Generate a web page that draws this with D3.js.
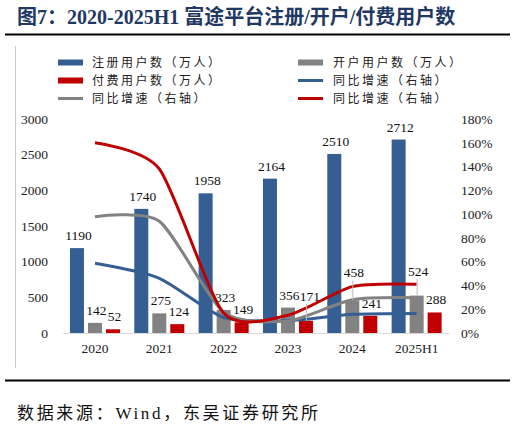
<!DOCTYPE html>
<html>
<head>
<meta charset="utf-8">
<script src="https://cdn.jsdelivr.net/npm/d3@7"></script>
<style>
  body { margin: 0; background: #fff; }
  svg { display: block; }
</style>
</head>
<body>
<div id="chart"></div>
<script>
// data
const years = ["2020", "2021", "2022", "2023", "2024", "2025H1"];
const registered = [1190, 1740, 1958, 2164, 2510, 2712];   // 注册用户数（万人）
const opened = [142, 275, 323, 356, 458, 524];              // 开户用户数（万人）
const paying = [52, 124, 149, 171, 241, 288];               // 付费用户数（万人）
const registeredYoy = [0.586, 0.46, 0.13, 0.105, 0.157, 0.165];
const openedYoy = [0.978, 0.94, 0.175, 0.102, 0.28, 0.297];
const payingYoy = [1.60, 1.38, 0.168, 0.15, 0.39, 0.41];
const leftTicks = [0, 500, 1000, 1500, 2000, 2500, 3000];
const rightTicks = [0, 0.2, 0.4, 0.6, 0.8, 1.0, 1.2, 1.4, 1.6, 1.8];

const width = 516, height = 428;
const blue = "#355f92", grey = "#828282", red = "#c00000";
const serif = "'Liberation Serif', 'Times New Roman', 'Noto Sans CJK SC', serif";
const cjk = "'Liberation Serif', 'Noto Sans CJK SC', sans-serif";

const svg = d3.select("#chart")
  .append("svg")
  .attr("width", width)
  .attr("height", height);

// title + rules
svg.append("text")
  .attr("x", 17)
  .attr("y", 24)
  .attr("fill", "#1f3864")
  .attr("font-family", cjk)
  .attr("font-weight", "bold")
  .attr("font-size", 20)
  .text("图7：2020-2025H1 富途平台注册/开户/付费用户数");

svg.append("line")
  .attr("x1", 5).attr("x2", 510).attr("y1", 34.5).attr("y2", 34.5)
  .attr("stroke", "#000").attr("stroke-width", 2);
svg.append("line")
  .attr("x1", 5).attr("x2", 510).attr("y1", 380.5).attr("y2", 380.5)
  .attr("stroke", "#000").attr("stroke-width", 2);
svg.append("line")
  .attr("x1", 15.5).attr("x2", 15.5).attr("y1", 46).attr("y2", 368)
  .attr("stroke", "#c8c8c8").attr("stroke-width", 1);

svg.append("text")
  .attr("x", 17)
  .attr("y", 419)
  .attr("font-family", cjk)
  .attr("font-size", 17)
  .attr("textLength", 301)
  .attr("lengthAdjust", "spacing")
  .attr("fill", "#111")
  .text("数据来源：Wind，东吴证券研究所");

// scales
const x = d3.scaleBand().domain(years).range([62.8, 448.8]);
const cx = d => x(d) + x.bandwidth() / 2;
const yL = d3.scaleLinear().domain([0, 3000]).range([333, 119]);
const yR = d3.scaleLinear().domain([0, 1.8]).range([333, 119]);

const barW = 14, step = 18;
const series = [
  { name: "注册用户数（万人）", values: registered, color: blue, off: -step },
  { name: "开户用户数（万人）", values: opened, color: grey, off: 0 },
  { name: "付费用户数（万人）", values: paying, color: red, off: step }
];
const lines = [
  { values: registeredYoy, color: blue },
  { values: openedYoy, color: grey },
  { values: payingYoy, color: red }
];

// axes
const fontAxis = g => g.selectAll("text")
  .attr("font-family", serif).attr("font-size", 13.5).attr("fill", "#222");

svg.append("g")
  .attr("transform", "translate(48,0)")
  .call(d3.axisLeft(yL).tickValues(leftTicks).tickSize(0).tickPadding(0).tickFormat(d3.format("d")))
  .call(g => g.select(".domain").remove())
  .call(fontAxis);

svg.append("g")
  .attr("transform", "translate(461,0)")
  .call(d3.axisRight(yR).tickValues(rightTicks).tickSize(0).tickPadding(0).tickFormat(d3.format(".0%")))
  .call(g => g.select(".domain").remove())
  .call(fontAxis);

// bars
const bars = svg.append("g");
series.forEach(s => {
  bars.append("g")
    .attr("fill", s.color)
    .selectAll("rect")
    .data(years.map((yr, i) => ({ yr, v: s.values[i] })))
    .join("rect")
    .attr("x", d => cx(d.yr) + s.off - barW / 2)
    .attr("width", barW)
    .attr("y", d => yL(d.v))
    .attr("height", d => yL(0) - yL(d.v));
});

svg.append("g")
  .attr("transform", "translate(0,333)")
  .call(d3.axisBottom(x).tickSize(0).tickSizeOuter(0).tickPadding(10.5))
  .call(g => g.select(".domain").attr("stroke", "#d9d9d9"))
  .call(fontAxis);

// smoothed yoy lines, a little tension so the dips stay shallow like the original
const line = d3.line()
  .x((d, i) => cx(years[i]))
  .y(d => yR(d))
  .curve(d3.curveCardinal.tension(0.3));

svg.append("g")
  .attr("fill", "none")
  .attr("stroke-width", 3)
  .selectAll("path")
  .data(lines)
  .join("path")
  .attr("stroke", d => d.color)
  .attr("d", d => line(d.values));

// data labels; a few were pulled up in the original with leader lines
// key = series index - year index
const lift = { "2-3": 12, "1-4": 15, "1-5": 12 };
const nudge = { "2-3": 2.5 };
const labels = svg.append("g")
  .attr("font-family", serif)
  .attr("font-size", 13.5)
  .attr("fill", "#111")
  .attr("text-anchor", "middle");

series.forEach((s, si) => {
  s.values.forEach((v, i) => {
    const key = si + "-" + i;
    const bx = cx(years[i]) + s.off;
    const top = yL(v);
    const up = lift[key] || 0;
    const by = top - 8 - up;
    if (up) {
      labels.append("line")
        .attr("x1", bx + 0.5).attr("x2", bx + 0.5)
        .attr("y1", by + 3).attr("y2", top)
        .attr("stroke", "#bdbdbd").attr("stroke-width", 1);
    }
    labels.append("text")
      .attr("x", bx + 1.5 + (nudge[key] || 0))
      .attr("y", by)
      .text(v);
  });
});

// legend
const legend = svg.append("g")
  .attr("font-family", cjk)
  .attr("font-size", 12)
  .attr("letter-spacing", 2.5)
  .attr("fill", "#222");

const legendItems = [
  { col: 0, row: 0, type: "rect", color: blue, text: "注册用户数（万人）" },
  { col: 1, row: 0, type: "rect", color: grey, text: "开户用户数（万人）" },
  { col: 0, row: 1, type: "rect", color: red, text: "付费用户数（万人）" },
  { col: 1, row: 1, type: "line", color: blue, text: "同比增速（右轴）" },
  { col: 0, row: 2, type: "line", color: grey, text: "同比增速（右轴）" },
  { col: 1, row: 2, type: "line", color: red, text: "同比增速（右轴）" }
];

legendItems.forEach(it => {
  const lx = it.col ? 298 : 58;
  const ly = 62.5 + it.row * 18;
  if (it.type === "rect") {
    legend.append("rect")
      .attr("x", lx).attr("y", ly - 3)
      .attr("width", 25).attr("height", 6)
      .attr("fill", it.color);
  } else {
    legend.append("line")
      .attr("x1", lx).attr("x2", lx + 25)
      .attr("y1", ly).attr("y2", ly)
      .attr("stroke", it.color).attr("stroke-width", 3);
  }
  legend.append("text")
    .attr("x", lx + (it.col ? 35 : 34))
    .attr("y", ly + 4.5)
    .text(it.text);
});
</script>
</body>
</html>
